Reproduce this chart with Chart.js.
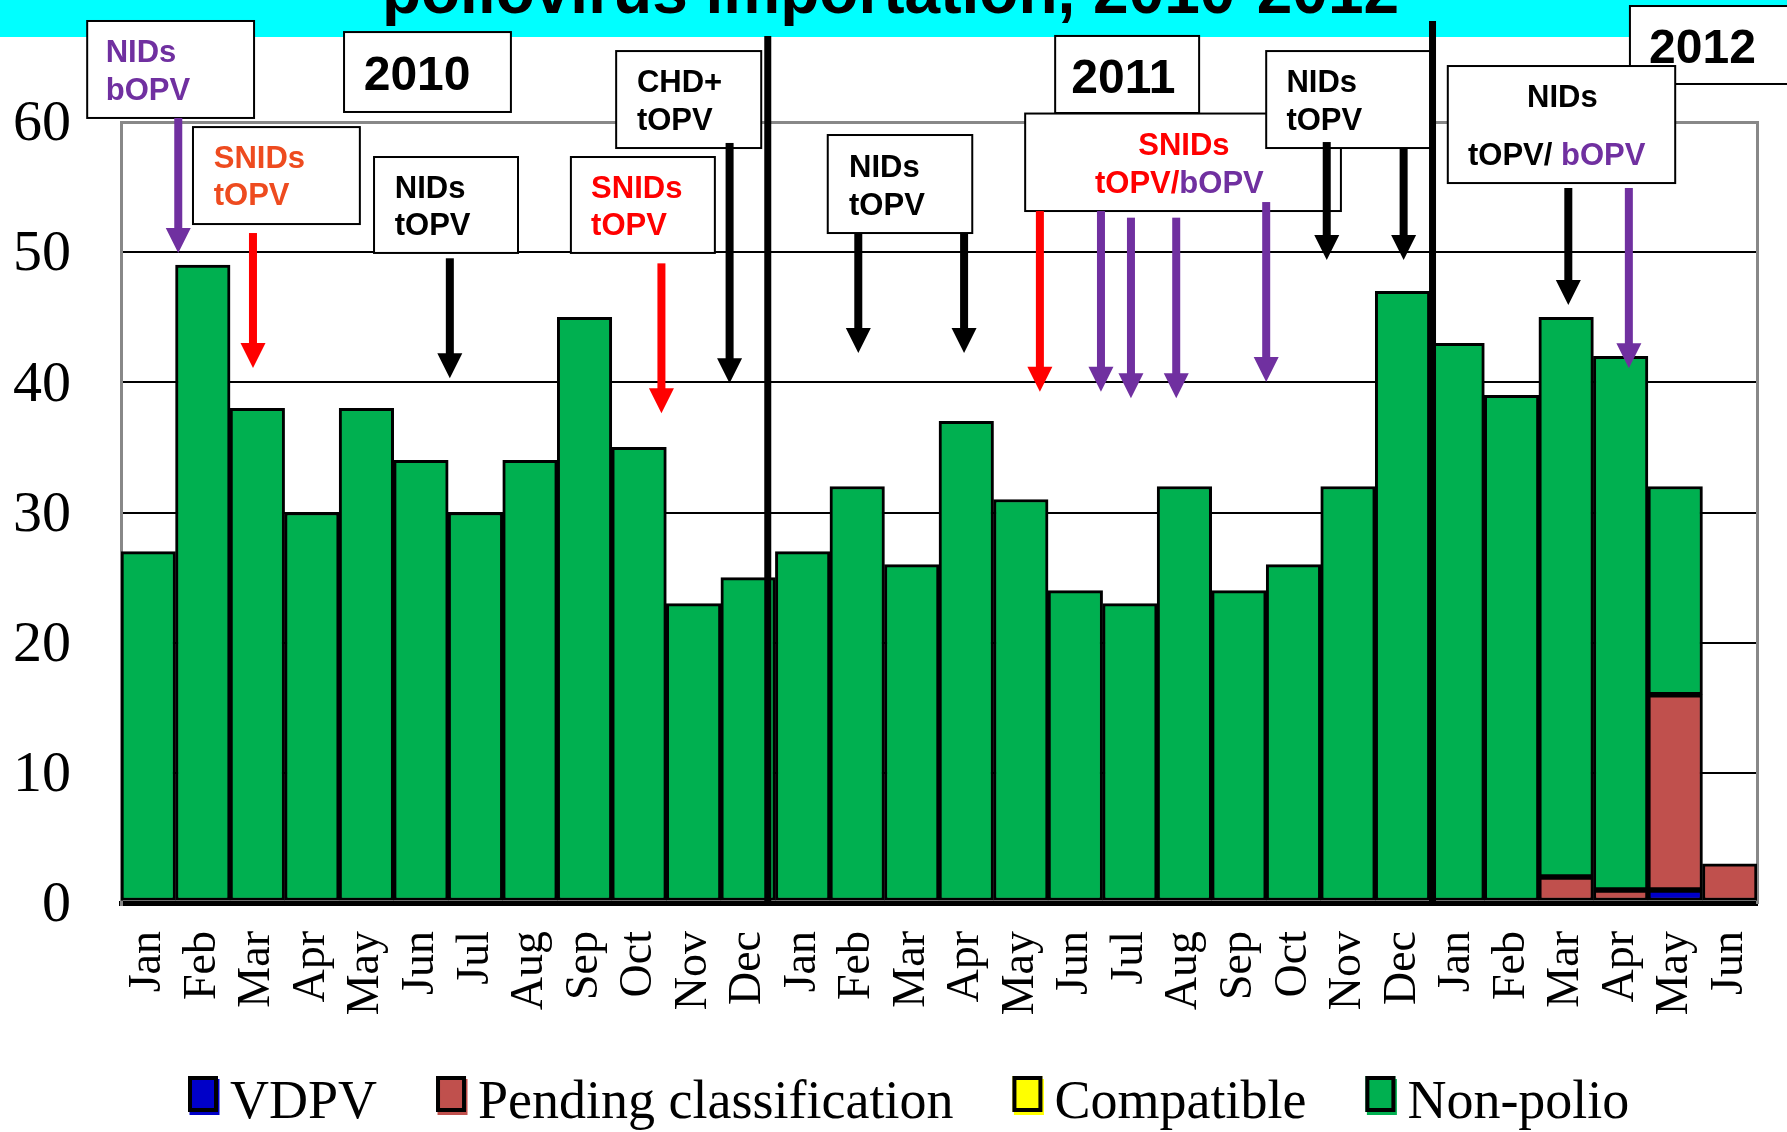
<!DOCTYPE html>
<html>
<head>
<meta charset="utf-8">
<script src="https://cdn.jsdelivr.net/npm/chart.js@4.4.1/dist/chart.umd.min.js"></script>
<style>
  html, body { margin: 0; padding: 0; background: #ffffff; }
  #wrap { width: 1787px; height: 1132px; position: relative; }
  canvas { display: block; }
</style>
</head>
<body>
<div id="wrap"><canvas id="c" width="1787" height="1132"></canvas></div>
<script>
// ---------------- DATA ----------------
const months = ['Jan','Feb','Mar','Apr','May','Jun','Jul','Aug','Sep','Oct','Nov','Dec',
                'Jan','Feb','Mar','Apr','May','Jun','Jul','Aug','Sep','Oct','Nov','Dec',
                'Jan','Feb','Mar','Apr','May','Jun'];
const vdpv       = [0,0,0,0,0,0,0,0,0,0,0,0, 0,0,0,0,0,0,0,0,0,0,0,0, 0,0,0,0,1,0];
const pending    = [0,0,0,0,0,0,0,0,0,0,0,0, 0,0,0,0,0,0,0,0,0,0,0,0, 0,0,2,1,15,3];
const compatible = [0,0,0,0,0,0,0,0,0,0,0,0, 0,0,0,0,0,0,0,0,0,0,0,0, 0,0,0,0,0,0];
const nonPolio   = [27,49,38,30,38,34,30,34,45,35,23,25, 27,32,26,37,31,24,23,32,24,26,32,47, 43,39,43,41,16,0];
const seriesNames = ['VDPV','Pending classification','Compatible','Non-polio'];
const yTickValues = [0,10,20,30,40,50,60];
const titleText = 'poliovirus importation, 2010-2012';

// ---------------- STYLE ----------------
const PURPLE = '#7030A0', ORANGE = '#EE4B1F', RED = '#FF0000', BLACK = '#000000';
const seriesColors = ['#0000C8', '#C0504D', '#FFFF00', '#00B050'];
Chart.defaults.font.family = '"Liberation Serif", "Times New Roman", serif';

// Annotations in data units (x = category index, y = value)
const annoBoxes = [
  {x0:-1.12, x1:1.94, y0:67.76, y1:60.31, lines:[
    {x:-0.78, y:64.61, align:'left', size:31, parts:[['NIDs',PURPLE]]},
    {x:-0.78, y:61.69, align:'left', size:31, parts:[['bOPV',PURPLE]]}]},
  {x0:3.59, x1:6.65, y0:66.91, y1:60.77, lines:[
    {x:4.93, y:62.46, align:'center', size:48, parts:[['2010',BLACK]]}]},
  {x0:0.82, x1:3.88, y0:59.61, y1:52.16, lines:[
    {x:1.20, y:56.46, align:'left', size:31, parts:[['SNIDs',ORANGE]]},
    {x:1.20, y:53.62, align:'left', size:31, parts:[['tOPV',ORANGE]]}]},
  {x0:4.14, x1:6.78, y0:57.31, y1:49.94, lines:[
    {x:4.52, y:54.16, align:'left', size:31, parts:[['NIDs',BLACK]]},
    {x:4.52, y:51.32, align:'left', size:31, parts:[['tOPV',BLACK]]}]},
  {x0:7.75, x1:10.39, y0:57.31, y1:49.94, lines:[
    {x:8.12, y:54.16, align:'left', size:31, parts:[['SNIDs',RED]]},
    {x:8.12, y:51.32, align:'left', size:31, parts:[['tOPV',RED]]}]},
  {x0:8.58, x1:11.24, y0:65.45, y1:58.0, lines:[
    {x:8.96, y:62.30, align:'left', size:31, parts:[['CHD+',BLACK]]},
    {x:8.96, y:59.38, align:'left', size:31, parts:[['tOPV',BLACK]]}]},
  {x0:12.46, x1:15.11, y0:59.0, y1:51.47, lines:[
    {x:12.85, y:55.77, align:'left', size:31, parts:[['NIDs',BLACK]]},
    {x:12.85, y:52.85, align:'left', size:31, parts:[['tOPV',BLACK]]}]},
  {x0:16.63, x1:19.27, y0:66.61, y1:60.69, lines:[
    {x:17.88, y:62.23, align:'center', size:48, parts:[['2011',BLACK]]}]},
  {x0:16.08, x1:21.87, y0:60.65, y1:53.16, lines:[
    {x:18.99, y:57.46, align:'center', size:31, parts:[['SNIDs',RED]]},
    {x:17.36, y:54.54, align:'left', size:31, parts:[['tOPV/',RED],['bOPV',PURPLE]]}]},
  {x0:20.50, x1:23.54, y0:65.45, y1:58.0, lines:[
    {x:20.87, y:62.30, align:'left', size:31, parts:[['NIDs',BLACK]]},
    {x:20.87, y:59.38, align:'left', size:31, parts:[['tOPV',BLACK]]}]},
  {x0:27.17, x1:30.8, y0:68.91, y1:62.92, lines:[
    {x:28.50, y:64.53, align:'center', size:48, parts:[['2012',BLACK]]}]},
  {x0:23.83, x1:28.0, y0:64.30, y1:55.31, lines:[
    {x:25.93, y:61.15, align:'center', size:31, parts:[['NIDs',BLACK]]},
    {x:24.20, y:56.70, align:'left', size:31, parts:[['tOPV/ ',BLACK],['bOPV',PURPLE]]}]}
];
const annoArrows = [
  {x:0.55,  y0:60.31, y1:49.94, color:PURPLE},
  {x:1.92,  y0:51.47, y1:41.10, color:RED},
  {x:5.53,  y0:49.53, y1:40.31, color:BLACK},
  {x:9.41,  y0:49.14, y1:37.62, color:RED},
  {x:10.66, y0:58.39, y1:39.92, color:BLACK},
  {x:13.02, y0:51.47, y1:42.25, color:BLACK},
  {x:14.96, y0:51.47, y1:42.25, color:BLACK},
  {x:16.35, y0:53.16, y1:39.28, color:RED},
  {x:17.47, y0:53.16, y1:39.28, color:PURPLE},
  {x:18.02, y0:52.65, y1:38.77, color:PURPLE},
  {x:18.85, y0:52.65, y1:38.77, color:PURPLE},
  {x:20.50, y0:53.85, y1:40.03, color:PURPLE},
  {x:21.61, y0:58.46, y1:49.40, color:BLACK},
  {x:23.02, y0:58.0,  y1:49.40, color:BLACK},
  {x:26.04, y0:54.93, y1:45.94, color:BLACK},
  {x:27.15, y0:54.93, y1:41.08, color:PURPLE}
];
const yearSeparators = [{x:11.36, y0:66.6}, {x:23.55, y0:67.76}];

// ---------------- PLUGINS ----------------
const backdropPlugin = {
  id: 'backdrop',
  beforeDraw(chart) {
    const ctx = chart.ctx;
    ctx.save();
    ctx.fillStyle = '#ffffff';
    ctx.fillRect(0, 0, chart.width, chart.height);
    ctx.fillStyle = '#00FFFF';
    ctx.fillRect(0, 0, chart.width, 37);
    ctx.fillStyle = '#000';
    ctx.font = 'bold 64px "Liberation Sans", Arial, sans-serif';
    ctx.textAlign = 'center';
    ctx.textBaseline = 'alphabetic';
    ctx.fillText(titleText, chart.width / 2 - 3, 12.5);
    ctx.restore();
  }
};

const annotationPlugin = {
  id: 'annotations',
  afterDraw(chart) {
    const ctx = chart.ctx;
    const xs = chart.scales.x, ys = chart.scales.y;
    const X = v => xs.getPixelForValue(v);
    const Y = v => ys.getPixelForValue(v);
    ctx.save();
    annoBoxes.forEach(b => {
      const l = X(b.x0), r = X(b.x1), t = Y(b.y0), btm = Y(b.y1);
      ctx.fillStyle = '#ffffff';
      ctx.fillRect(l, t, r - l, btm - t);
      ctx.strokeStyle = '#000';
      ctx.lineWidth = 2;
      ctx.strokeRect(l, t, r - l, btm - t);
      b.lines.forEach(line => {
        ctx.font = 'bold ' + line.size + 'px "Liberation Sans", Arial, sans-serif';
        ctx.textBaseline = 'alphabetic';
        ctx.textAlign = 'left';
        const total = line.parts.reduce((s, p) => s + ctx.measureText(p[0]).width, 0);
        let x = X(line.x);
        if (line.align === 'center') x -= total / 2;
        const y = Y(line.y);
        line.parts.forEach(p => {
          ctx.fillStyle = p[1];
          ctx.fillText(p[0], x, y);
          x += ctx.measureText(p[0]).width;
        });
      });
    });
    yearSeparators.forEach(s => {
      ctx.strokeStyle = '#000';
      ctx.lineWidth = 7;
      ctx.beginPath();
      ctx.moveTo(X(s.x), Y(s.y0));
      ctx.lineTo(X(s.x), Y(0));
      ctx.stroke();
    });
    annoArrows.forEach(a => {
      const x = X(a.x), y0 = Y(a.y0), y1 = Y(a.y1);
      const head = 25, hw = 12.5;
      ctx.fillStyle = a.color;
      ctx.fillRect(x - 4, y0, 8, (y1 - head) - y0 + 1);
      ctx.beginPath();
      ctx.moveTo(x - hw, y1 - head);
      ctx.lineTo(x + hw, y1 - head);
      ctx.lineTo(x, y1);
      ctx.closePath();
      ctx.fill();
    });
    ctx.restore();
  }
};

const legendPlugin = {
  id: 'bottomLegend',
  afterDraw(chart) {
    const ctx = chart.ctx;
    const area = chart.chartArea;
    ctx.save();
    ctx.font = '54px "Liberation Serif", "Times New Roman", serif';
    ctx.textBaseline = 'alphabetic';
    ctx.textAlign = 'left';
    let x = area.left + 67;
    const boxTop = area.bottom + 173;
    chart.data.datasets.forEach(ds => {
      ctx.fillStyle = ds.backgroundColor;
      ctx.fillRect(x + 1.5, boxTop + 3, 30, 36);
      ctx.fillRect(x, boxTop, 30, 36);
      ctx.lineWidth = 4;
      ctx.strokeStyle = '#000';
      ctx.strokeRect(x + 2, boxTop + 2, 26, 32);
      ctx.fillStyle = '#000';
      ctx.fillText(ds.label, x + 42, boxTop + 42);
      x += 42 + ctx.measureText(ds.label).width + 59;
    });
    ctx.restore();
  }
};

// ---------------- CHART ----------------
const nz = v => (v === 0 ? null : v);
const seriesData = [vdpv, pending, compatible, nonPolio];

const chart = new Chart(document.getElementById('c').getContext('2d'), {
  type: 'bar',
  data: {
    labels: months,
    datasets: seriesNames.map((name, i) => ({
      label: name,
      data: seriesData[i].map(nz),
      backgroundColor: seriesColors[i],
      borderColor: '#000000',
      borderWidth: 3,
      borderSkipped: false,
      barPercentage: 1.0,
      categoryPercentage: 1.0
    }))
  },
  options: {
    responsive: false,
    animation: false,
    devicePixelRatio: 1,
    layout: { padding: { top: 122, left: 0, right: 0, bottom: 79 } },
    plugins: {
      legend: { display: false },
      tooltip: { enabled: false },
      title: { display: false }
    },
    scales: {
      x: {
        stacked: true,
        grid: { display: false, drawTicks: false, tickLength: 0 },
        border: { display: true, color: '#000000', width: 5 },
        ticks: {
          autoSkip: false,
          maxRotation: 90,
          minRotation: 90,
          padding: 28,
          color: '#000000',
          font: { family: '"Liberation Serif", "Times New Roman", serif', size: 46 }
        },
        afterFit(scale) {
          scale.height = 150;
          scale.paddingLeft = 0;
          scale.paddingRight = 0;
        }
      },
      y: {
        stacked: true,
        min: 0,
        max: 60,
        afterBuildTicks(scale) { scale.ticks = yTickValues.map(v => ({ value: v })); },
        ticks: {
          padding: 50,
          labelOffset: 3,
          color: '#000000',
          font: { family: '"Liberation Serif", "Times New Roman", serif', size: 58 }
        },
        grid: {
          drawTicks: false,
          tickLength: 0,
          color: ctx => (ctx.tick && ctx.tick.value === 60 ? '#888888' : '#000000'),
          lineWidth: ctx => (ctx.tick && ctx.tick.value === 0 ? 5 : (ctx.tick && ctx.tick.value === 60 ? 3 : 2))
        },
        border: { display: true, color: '#888888', width: 3 },
        afterFit(scale) {
          scale.width = 121;
          scale.paddingTop = 0;
          scale.paddingBottom = 0;
        }
      },
      y2: {
        position: 'right',
        min: 0,
        max: 60,
        ticks: { display: false },
        grid: { display: false, drawOnChartArea: false, drawTicks: false },
        border: { display: true, color: '#888888', width: 3 },
        afterFit(scale) {
          scale.width = 30;
          scale.paddingTop = 0;
          scale.paddingBottom = 0;
        }
      }
    }
  },
  plugins: [backdropPlugin, annotationPlugin, legendPlugin]
});
</script>
</body>
</html>
